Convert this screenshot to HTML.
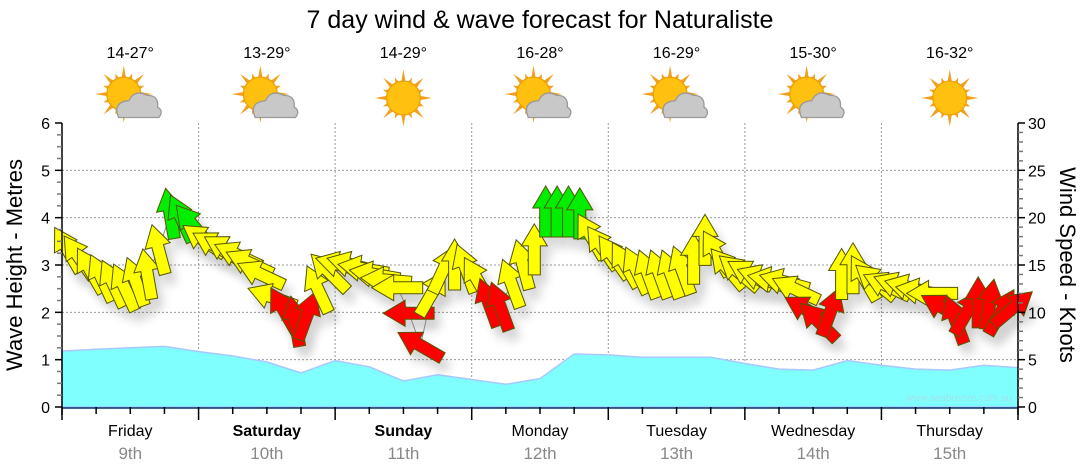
<!DOCTYPE html>
<html><head><meta charset="utf-8">
<style>
body{margin:0;background:#fff;}
svg{display:block;font-family:"Liberation Sans",sans-serif;}
</style></head>
<body>
<svg id="chart" width="1080" height="475" viewBox="0 0 1080 475">
<defs><filter id="sh" x="-50%" y="-50%" width="200%" height="200%"><feGaussianBlur stdDeviation="5"/></filter></defs>
<text x="540" y="28" text-anchor="middle" font-size="25" fill="#000">7 day wind &amp; wave forecast for Naturaliste</text>
<text transform="translate(22,265) rotate(-90)" text-anchor="middle" font-size="22">Wave Height - Metres</text>
<text transform="translate(1060,265) rotate(90)" text-anchor="middle" font-size="22">Wind Speed - Knots</text>
<g id="grid"></g>
<g id="wave"></g>
<g id="shadow" opacity="0.18"></g>
<g id="wind"></g>
<g id="axes"></g>
<g id="top"></g>
<text x="1012" y="401" text-anchor="end" font-size="10" fill="#9fe3e8">www.seabreeze.com.au</text>
</svg>
<script>
const days = ["Friday","Saturday","Sunday","Monday","Tuesday","Wednesday","Thursday"];
const dates = ["9th","10th","11th","12th","13th","14th","15th"];
const boldDays = [false,true,true,false,false,false,false];
const temps = ["14-27°","13-29°","14-29°","16-28°","16-29°","15-30°","16-32°"];
const icons = ["partly","partly","sunny","partly","partly","partly","sunny"];
const waveTicks = [0,1,2,3,4,5,6];
const windTicks = [0,5,10,15,20,25,30];
// wave height, 6-hourly (m)
const wave = [1.18,1.22,1.25,1.28,1.17,1.08,0.95,0.72,0.98,0.85,0.55,0.68,0.58,0.48,0.6,1.12,1.1,1.05,1.05,1.05,0.92,0.8,0.78,0.98,0.88,0.8,0.78,0.88,0.83];
// wind speed, 2-hourly (knots)
const windSpeed = [16.6,15.8,14.4,13.6,13.0,12.6,13.2,14.0,16.6,20.4,19.9,19.2,
17.6,17.0,16.6,16.0,15.2,14.0,11.6,10.2,9.0,9.6,12.4,14.2,
15.0,15.0,14.6,14.0,13.4,12.6,9.9,6.5,12.0,14.5,15.0,14.6,
13.4,11.0,10.6,13.0,15.0,16.6,20.6,20.6,20.6,20.4,18.0,16.8,
15.8,15.0,14.4,14.0,14.0,14.0,14.4,15.6,17.6,16.2,14.6,14.2,
14.0,13.6,13.4,13.2,12.4,10.2,9.0,10.0,14.0,14.6,13.6,13.2,
12.8,12.8,12.6,12.2,12.0,10.4,9.2,10.0,11.0,10.8,10.0,10.4];
// arrow heading (degrees, 0 = pointing up)
const windDir = [-30,-35,-30,-25,-25,-25,-20,-10,-15,-10,-25,-40,
-55,-60,-60,-65,-65,-65,-70,-30,-10,20,-25,-45,
-75,-75,-80,-80,-85,-90,-90,-60,30,25,0,-20,
-30,-20,-20,-20,-15,0,0,0,0,0,-30,-35,
-35,-30,-25,-20,-20,-20,-20,0,0,-30,-40,-50,
-60,-70,-80,-75,-65,-60,-45,20,0,0,-30,-50,
-65,-70,-75,-80,-90,-60,-20,30,0,10,30,50];

const NS="http://www.w3.org/2000/svg";
const L=62,R=1018,T=123,B=407;
const dayW=(R-L)/7;
const yWave=v=>B-(v/6)*(B-T);
const yWind=v=>B-(v/30)*(B-T);
const xHour=h=>L+h/168*(R-L);
function mk(tag,attrs,parent){const e=document.createElementNS(NS,tag);for(const k in attrs)e.setAttribute(k,attrs[k]);parent.appendChild(e);return e;}
const grid=document.getElementById('grid'),axes=document.getElementById('axes'),top_=document.getElementById('top'),waveG=document.getElementById('wave'),windG=document.getElementById('wind'),shG=document.getElementById('shadow');

waveTicks.forEach(v=>{ if(v>0&&v<6){const l=mk('line',{x1:L,x2:R,y1:yWave(v),y2:yWave(v),stroke:'#999','stroke-dasharray':'2,2','stroke-width':1},grid);

}});
for(let d=1;d<7;d++){const l=mk('line',{x1:L+d*dayW,x2:L+d*dayW,y1:T,y2:B,stroke:'#999','stroke-dasharray':'2,2','stroke-width':1},grid);

}

let pts=wave.map((v,i)=>xHour(i*6).toFixed(1)+','+yWave(v).toFixed(1));
let d='M'+L+','+B+' L'+pts.join(' L')+' L'+R+','+B+' Z';
const wa=mk('path',{d:d,fill:'#80ffff',stroke:'#a8c8ff','stroke-width':1.5},waveG);



const arrowPath='M0,-26 L13,-4 L6,-4 L6,25 L-6,25 L-6,-4 L-13,-4 Z';
const conn=mk('polyline',{points:windSpeed.map((v,i)=>xHour(i*2+1).toFixed(1)+','+yWind(v).toFixed(1)).join(' '),fill:'none',stroke:'#888','stroke-width':1},windG);


windSpeed.forEach((v,i)=>{
  const col=v<11.5?'#ff0000':(v<19?'#ffff00':'#00ee00');
  const tr=`translate(${xHour(i*2+1).toFixed(1)},${yWind(v).toFixed(1)}) rotate(${windDir[i]})`;
  mk('path',{d:arrowPath,fill:'#000',transform:`translate(6,10) `+tr,filter:'url(#sh)'},shG);
  const a=mk('path',{d:arrowPath,fill:col,stroke:'#555500','stroke-width':1,transform:tr},windG);
  
  
});

mk('line',{x1:L,x2:L,y1:T,y2:B+8,stroke:'#000','stroke-width':1.5},axes);
mk('line',{x1:R,x2:R,y1:T,y2:B+8,stroke:'#000','stroke-width':1.5},axes);
mk('line',{x1:L,x2:R,y1:B+1,y2:B+1,stroke:'#003366','stroke-width':1.5},axes);
for(let v=0;v<=6.001;v+=0.25){const y=yWave(v);const maj=Math.abs(v-Math.round(v))<0.01;mk('line',{x1:maj?L-7:L-5,x2:L,y1:y,y2:y,stroke:maj?'#000':'#777','stroke-width':1.5},axes);}
for(let v=0;v<=30;v++){const y=yWind(v);const maj=v%5==0;mk('line',{x1:R,x2:maj?R+7:R+5,y1:y,y2:y,stroke:maj?'#000':'#777','stroke-width':1.5},axes);}
waveTicks.forEach(v=>{const t=mk('text',{x:L-12,y:yWave(v)+6,'text-anchor':'end','font-size':16},axes);t.textContent=v;

});
windTicks.forEach(v=>{const t=mk('text',{x:R+10,y:yWind(v)+6,'font-size':16},axes);t.textContent=v;

});
for(let h=0;h<=168;h+=6){const x=xHour(h);mk('line',{x1:x,x2:x,y1:B,y2:B+(h%24==0?13:7),stroke:'#000','stroke-width':1.5},axes);}

days.forEach((dn,i)=>{
  const cx=L+(i+0.5)*dayW;
  const t=mk('text',{x:cx,y:436,'text-anchor':'middle','font-size':16,'font-weight':boldDays[i]?'bold':'normal'},axes);t.textContent=dn;
  
  
  const t2=mk('text',{x:cx,y:459,'text-anchor':'middle','font-size':17,fill:'#888'},axes);t2.textContent=dates[i];
  
  
  const t3=mk('text',{x:cx,y:58,'text-anchor':'middle','font-size':16},top_);t3.textContent=temps[i];
  
  
  const g=mk('g',{transform:`translate(${cx},98) scale(1.3)`},top_);
  
  
  const sx=icons[i]=='sunny'?0:-5, sy=icons[i]=='sunny'?0:-3;
  for(let k=0;k<16;k++){const ang=k*22.5*Math.PI/180;const len=k%2?17:22;
    mk('polygon',{points:`${sx+Math.cos(ang)*len},${sy+Math.sin(ang)*len} ${sx+Math.cos(ang+0.15)*12},${sy+Math.sin(ang+0.15)*12} ${sx+Math.cos(ang-0.15)*12},${sy+Math.sin(ang-0.15)*12}`,fill:'#f0a020'},g);}
  mk('circle',{cx:sx,cy:sy,r:13,fill:'#ffc010',stroke:'#f0a000'},g);
  if(icons[i]=='partly'){
    mk('path',{d:'M-9,15 Q-14,3 -1,2 Q3,-7 13,-2 Q22,-2 21,7 Q26,10 22,15 Z',fill:'#c8c8c8',stroke:'#999','stroke-width':1},g);
  }
});
</script>
</body></html>
